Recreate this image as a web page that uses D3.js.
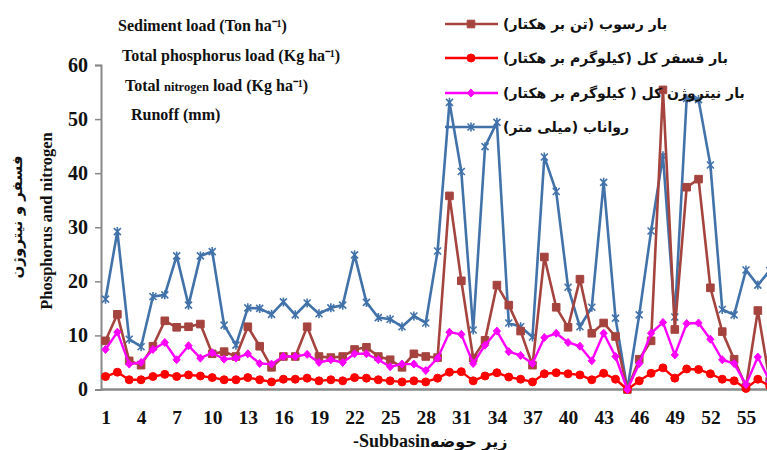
<!DOCTYPE html>
<html>
<head>
<meta charset="utf-8">
<script src="https://cdn.jsdelivr.net/npm/d3@7"></script>
<style>
  body { margin: 0; background: #fff; }
  svg { display: block; }
</style>
</head>
<body>
<svg id="chart"></svg>
<script>
// subbasins 1..57 (last one is cut by the right edge)
const subbasins = d3.range(1, 58);

const sediment = [9.0, 13.9, 5.3, 4.5, 8.0, 12.7, 11.5, 11.6, 12.1, 6.6,
  7.0, 6.1, 11.6, 8.0, 4.1, 6.1, 6.1, 11.6, 6.1, 5.9,
  6.1, 7.4, 7.8, 6.1, 5.5, 4.1, 6.6, 6.1, 5.9, 35.8,
  20.1, 5.8, 9.1, 19.3, 15.6, 10.8, 4.5, 24.5, 15.2, 11.5,
  20.4, 10.4, 12.3, 9.8, 0, 5.6, 9.0, 55.4, 11.1, 37.4,
  38.9, 18.8, 10.7, 5.6, 0.5, 14.6, 1.5];

const phosphorus = [2.4, 3.2, 1.8, 1.8, 2.4, 2.8, 2.4, 2.7, 2.5, 2.2,
  1.8, 1.8, 2.2, 1.8, 1.4, 1.9, 1.9, 2.1, 1.6, 1.8,
  1.6, 2.2, 2.1, 1.8, 1.6, 1.4, 1.6, 1.4, 2.1, 3.2,
  3.3, 1.6, 2.5, 3.1, 2.3, 1.9, 1.4, 2.9, 3.1, 2.9,
  2.7, 1.8, 3.0, 1.9, 0, 1.6, 3.0, 4.0, 2.1, 3.8,
  3.7, 2.9, 1.9, 1.6, 0.2, 1.9, 0.6];

const nitrogen = [7.4, 10.6, 4.7, 5.0, 7.4, 8.7, 5.5, 8.1, 5.8, 6.8,
  5.6, 5.8, 6.6, 4.8, 4.7, 6.1, 6.1, 6.5, 5.0, 5.5,
  5.0, 6.6, 6.6, 5.5, 4.2, 4.7, 4.7, 3.5, 5.8, 10.6,
  10.2, 4.8, 8.2, 10.8, 7.0, 6.3, 4.8, 9.6, 10.4, 8.7,
  8.0, 5.3, 10.4, 6.1, 0, 4.8, 10.4, 12.4, 6.4, 12.2,
  12.3, 9.3, 5.5, 4.8, 0.9, 6.0, 1.5];

const runoff = [16.7, 29.2, 9.3, 7.9, 17.2, 17.5, 24.7, 15.6, 24.7, 25.5,
  11.9, 8.2, 15.1, 15.0, 13.9, 16.2, 13.8, 16.0, 14.0, 15.1,
  15.6, 24.9, 16.1, 13.3, 13.0, 11.6, 13.6, 12.3, 25.6, 53.1,
  40.3, 11.0, 44.9, 49.4, 12.3, 11.6, 9.7, 43.0, 36.6, 18.9,
  11.6, 15.2, 38.3, 13.2, 0, 13.8, 29.3, 43.2, 13.4, 53.8,
  53.6, 41.5, 14.8, 13.8, 22.1, 19.3, 22.0];

const xTicks = d3.range(1, 56, 3);
const yTicks = [0, 10, 20, 30, 40, 50, 60];

const faLabels = [
  "بار رسوب (تن بر هکتار)",
  "بار فسفر کل (کیلوگرم بر هکتار)",
  "بار نیتروژن کل ( کیلوگرم بر هکتار)",
  "رواناب (میلی متر)"
];

const SERIES = [
  { key: "runoff",     values: runoff,     color: "#4272AA", marker: "star",    width: 2.6 },
  { key: "sediment",   values: sediment,   color: "#A5443F", marker: "square",  width: 2.6 },
  { key: "phosphorus", values: phosphorus, color: "#FF0000", marker: "circle",  width: 2.4 },
  { key: "nitrogen",   values: nitrogen,   color: "#FF00FF", marker: "diamond", width: 2.4 },
];

const W = 767, H = 450;
const svg = d3.select("#chart").attr("width", W).attr("height", H);

const x = d3.scaleLinear().domain([1, 57]).range([105.5, 769.7]);
const y = d3.scaleLinear().domain([0, 60]).range([389.5, 65]);

const serif = "'Liberation Serif', 'Times New Roman', serif";
const faFont = "'DejaVu Sans', sans-serif";

// ── axes ──────────────────────────────────────────────
const yAxis = svg.append("g")
  .attr("transform", "translate(101,0)")
  .call(d3.axisLeft(y).tickValues(yTicks).tickSize(6).tickPadding(7));
yAxis.select(".domain").attr("stroke", "#888").attr("stroke-width", 2);
yAxis.selectAll(".tick line").attr("stroke", "#888").attr("stroke-width", 1.5);
yAxis.selectAll(".tick text")
  .attr("font-family", serif).attr("font-weight", "bold")
  .attr("font-size", 20).attr("fill", "#111");

const xAxis = svg.append("g")
  .attr("transform", "translate(0,389.5)")
  .call(d3.axisBottom(x).tickValues(xTicks).tickSize(0).tickPadding(21));
xAxis.select(".domain").attr("d", `M101,0H${W}`).attr("stroke", "#888").attr("stroke-width", 2.5);
xAxis.selectAll(".tick text")
  .attr("font-family", serif).attr("font-weight", "bold")
  .attr("font-size", 19.5).attr("fill", "#111");

// ── markers ───────────────────────────────────────────
function markerPath(kind) {
  if (kind === "square")  return "M-3.8,-3.8H3.8V3.8H-3.8Z";
  if (kind === "circle")  return d3.symbol(d3.symbolCircle, 50)();
  if (kind === "diamond") return "M0,-4L3.6,0L0,4L-3.6,0Z";
  return "M-3.5,-3.5L3.5,3.5M-3.5,3.5L3.5,-3.5M0,-4.5V4.5";
}

const line = d3.line().x((d, i) => x(subbasins[i])).y(d => y(d));

SERIES.forEach(s => {
  const g = svg.append("g").attr("class", "series-" + s.key);
  g.append("path")
    .attr("d", line(s.values))
    .attr("fill", "none")
    .attr("stroke", s.color)
    .attr("stroke-width", s.width)
    .attr("stroke-linejoin", "round");
  g.selectAll("path.mk")
    .data(s.values).enter().append("path")
    .attr("class", "mk")
    .attr("transform", (d, i) => `translate(${x(subbasins[i])},${y(d)})`)
    .attr("d", markerPath(s.marker))
    .attr("fill", s.marker === "star" ? "none" : s.color)
    .attr("stroke", s.color)
    .attr("stroke-width", s.marker === "star" ? 1.6 : 1);
});

// ── legend (Persian, right) ───────────────────────────
const legendRows = [
  { s: SERIES[1], y: 24 },
  { s: SERIES[2], y: 58 },
  { s: SERIES[3], y: 93 },
  { s: SERIES[0], y: 127 },
];
legendRows.forEach((r, i) => {
  const g = svg.append("g");
  g.append("line").attr("x1", 445).attr("x2", 498).attr("y1", r.y).attr("y2", r.y)
    .attr("stroke", r.s.color).attr("stroke-width", r.s.width);
  g.append("path").attr("transform", `translate(471,${r.y})`)
    .attr("d", markerPath(r.s.marker))
    .attr("fill", r.s.marker === "star" ? "none" : r.s.color)
    .attr("stroke", r.s.color).attr("stroke-width", r.s.marker === "star" ? 1.6 : 1);
  g.append("text")
    .attr("x", 503).attr("y", r.y + 5)
    .attr("direction", "rtl").attr("text-anchor", "end")
    .attr("font-family", faFont).attr("font-weight", "bold")
    .attr("font-size", 14).attr("fill", "#111")
    .text(faLabels[i]);
});

// ── English labels (left) ─────────────────────────────
const en = svg.append("g")
  .attr("font-family", serif).attr("font-weight", "bold")
  .attr("font-size", 16).attr("fill", "#111");
en.append("text").attr("x", 118).attr("y", 31).text("Sediment load (Ton  ha⁻¹)");
en.append("text").attr("x", 122).attr("y", 61).text("Total phosphorus load (Kg ha⁻¹)");
const nt = en.append("text").attr("x", 125).attr("y", 91);
nt.append("tspan").text("Total ");
nt.append("tspan").attr("font-size", 12.5).text("nitrogen");
nt.append("tspan").text(" load  (Kg ha⁻¹)");
en.append("text").attr("x", 131).attr("y", 120).text("Runoff (mm)");

// ── axis titles ───────────────────────────────────────
svg.append("text")
  .attr("transform", "translate(52,221) rotate(-90)")
  .attr("text-anchor", "middle")
  .attr("font-family", serif).attr("font-weight", "bold")
  .attr("font-size", 16.5).attr("fill", "#111")
  .text("Phosphorus and nitrogen");
svg.append("text")
  .attr("transform", "translate(22,217) rotate(-90)")
  .attr("text-anchor", "middle")
  .attr("font-family", faFont).attr("font-weight", "bold")
  .attr("font-size", 15).attr("fill", "#111")
  .text("فسفر و نیتروژن");

const xt = svg.append("text")
  .attr("x", 353).attr("y", 447)
  .attr("font-weight", "bold").attr("fill", "#111");
xt.append("tspan").attr("font-family", serif).attr("font-size", 18).text("-Subbasin");
xt.append("tspan").attr("font-family", faFont).attr("font-size", 16).text("زیر حوضه");
</script>
</body>
</html>
